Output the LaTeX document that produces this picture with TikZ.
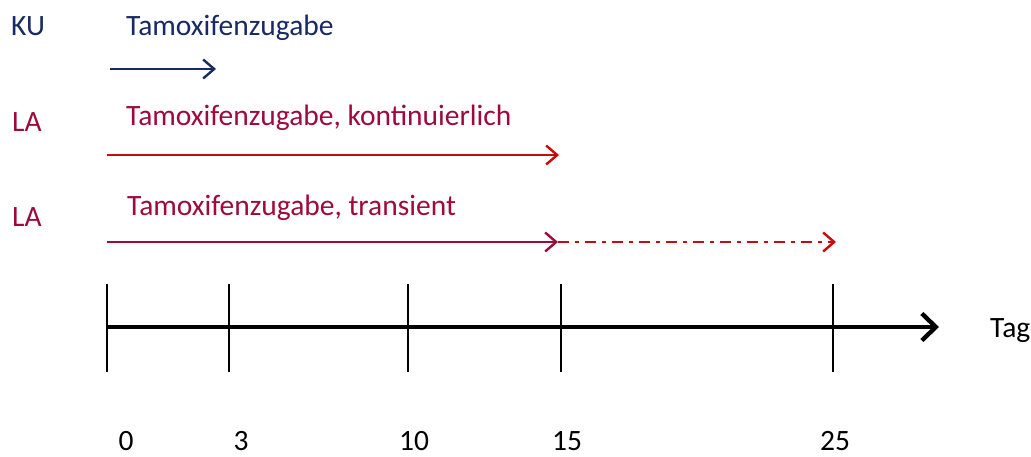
\documentclass[tikz,border=0pt]{standalone}
\usepackage{fontspec}
\setmainfont{Carlito}
\usetikzlibrary{arrows.meta}
\definecolor{navy}{RGB}{24,42,100}
\definecolor{wine}{RGB}{158,10,60}
\definecolor{brightred}{RGB}{196,12,12}
\tikzset{
  lbl/.style={anchor=base west, inner sep=0pt, font=\fontsize{29.5}{34}\selectfont},
  num/.style={anchor=base, inner sep=0pt, font=\fontsize{29.5}{34}\selectfont},
  barb/.style={-{Straight Barb[length=11pt,width=19pt,line width=2.4pt]}, line width=2.4pt},
  tick/.style={line width=1.1pt},
  axis/.style={line width=4.8pt, -{Straight Barb[length=14pt,width=27pt,line width=4.4pt]}}
}
\begin{document}
\begin{tikzpicture}[x=1pt,y=-1pt]
\useasboundingbox (0,0) rectangle (1031,456);

% row labels and captions
\node[lbl, text=navy] (ku) at (11,35) {KU};
\node[lbl, text=navy] (t1) at (126,35) {Tamoxifenzugabe};
\node[lbl, text=wine] (la1) at (12,131) {LA};
\node[lbl, text=wine] (t2) at (126,125) {Tamoxifenzugabe, kontinuierlich};
\node[lbl, text=wine] (la2) at (12,226) {LA};
\node[lbl, text=wine] (t3) at (127,215) {Tamoxifenzugabe, transient};

% treatment periods
\coordinate (a1s) at (110,69);  \coordinate (a1e) at (216,69);
\coordinate (a2s) at (107,155); \coordinate (a2e) at (559,155);
\coordinate (a3s) at (107,242); \coordinate (a3m) at (558,242);
\coordinate (a3e) at (836,242);
\draw[barb, navy] (a1s) -- (a1e);
\draw[barb, brightred] (a2s) -- (a2e);
\draw[barb, wine] (a3s) -- (a3m);
\draw[barb, brightred, dash pattern=on 11pt off 6pt on 4pt off 6pt] (a3m) -- (a3e);

% day ticks
\foreach \n/\x in {d0/107, d3/229, d10/408, d15/561, d25/833}{
  \coordinate (\n top) at (\x,284);
  \coordinate (\n bot) at (\x,372);
  \draw[tick] (\n top) -- (\n bot);
}

% time axis
\coordinate (ax0) at (107,327);
\coordinate (ax1) at (939,327);
\draw[axis] (ax0) -- (ax1);
\node[lbl] (tag) at (990,337) {Tag};

% day numbers
\node[num] (n0) at (126,450) {0};
\node[num] (n3) at (241,450) {3};
\node[num] (n10) at (414,450) {10};
\node[num] (n15) at (567,450) {15};
\node[num] (n25) at (835,450) {25};
\end{tikzpicture}
\end{document}
